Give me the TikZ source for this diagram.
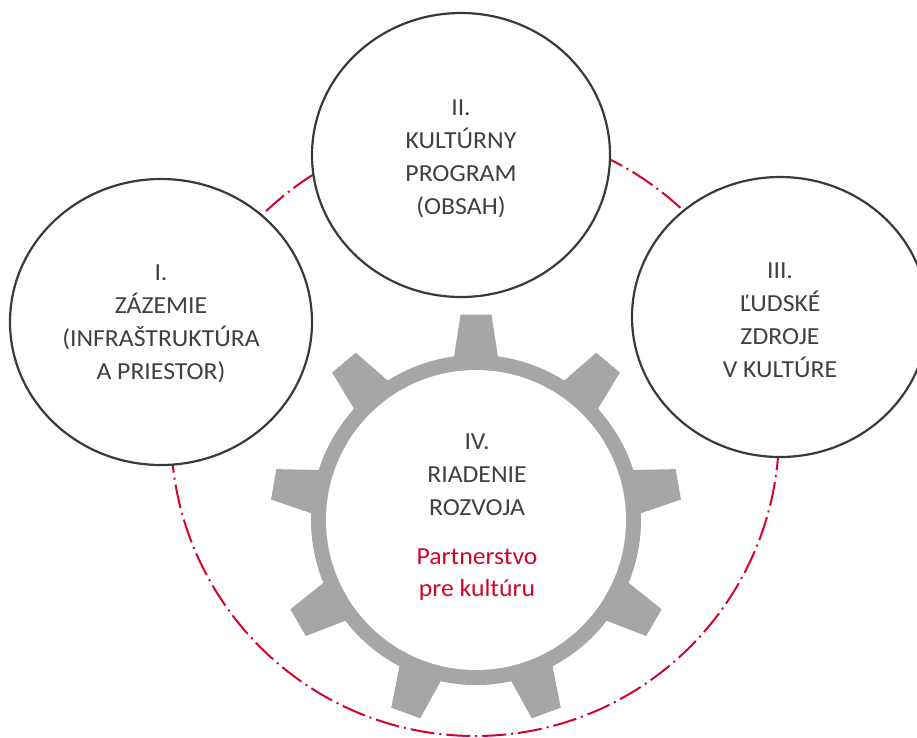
\documentclass[tikz,border=0pt]{standalone}
\usepackage{fontspec}
\setmainfont{Carlito}[FakeStretch=1.05]
\usetikzlibrary{shapes.geometric}
\definecolor{ink}{HTML}{3A3A3A}
\definecolor{txt}{HTML}{404040}
\definecolor{redd}{HTML}{D2042D}
\definecolor{gearg}{HTML}{A6A6A6}
\begin{document}
\begin{tikzpicture}[x=1pt,y=-1pt,
  pillar/.style={ellipse, draw=ink, line width=2.2pt, fill=white, inner sep=0pt},
  pillartext/.style={align=center, text=txt, font=\fontsize{24.5}{33}\selectfont, inner sep=0pt},
  redtext/.style={align=center, text=redd, font=\fontsize{24.5}{32}\selectfont, inner sep=0pt},
  redring/.style={draw=redd, line width=2pt, dash pattern=on 24pt off 5pt on 2pt off 5pt},
  gearfill/.style={fill=gearg}]
\useasboundingbox (0,0) rectangle (917,737);
% red dash-dot circle
\draw[redring] (475,432) circle [radius=304pt];
% gear
\begin{scope}[shift={(476,520)}]
  \foreach \a in {10,50,...,330}
    \fill[gearfill] (\a-4.3:206pt) -- (\a+4.3:206pt) -- (\a+8.4:158pt) -- (\a-8.4:158pt) -- cycle;
  \fill[gearfill] (0,0) circle [radius=165pt];
\end{scope}
\node[circle, fill=white, minimum size=300pt, inner sep=0pt] (c4) at (476,520) {};
% pillars
\node[pillar, minimum width=302pt, minimum height=286pt] (c1) at (161,322) {};
\node[pillar, minimum width=298pt, minimum height=284pt] (c2) at (461,155) {};
\node[pillar, minimum width=296pt, minimum height=280pt] (c3) at (780,317) {};
% texts
\node[pillartext] (t1) at (161,324) {I.\\ZÁZEMIE\\(INFRAŠTRUKTÚRA\\A PRIESTOR)};
\node[pillartext] (t2) at (461,159) {II.\\KULTÚRNY\\PROGRAM\\(OBSAH)};
\node[pillartext] (t3) at (780,320) {III.\\ĽUDSKÉ\\ZDROJE\\V KULTÚRE};
\node[pillartext] (t4) at (477,475) {IV.\\RIADENIE\\ROZVOJA};
\node[redtext] (t5) at (477,574.5) {Partnerstvo\\pre kultúru};
\end{tikzpicture}
\end{document}
